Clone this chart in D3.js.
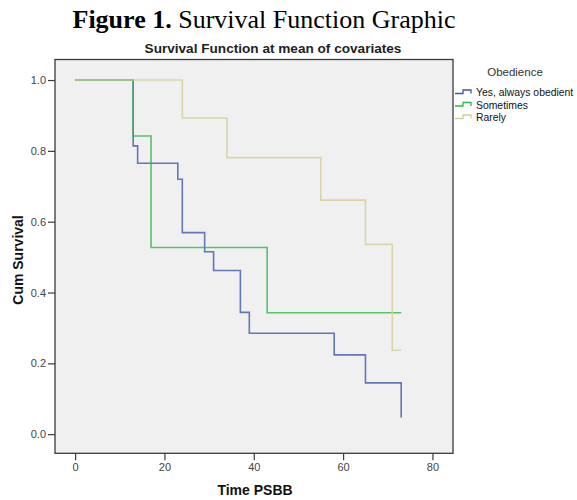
<!DOCTYPE html>
<html>
<head>
<meta charset="utf-8">
<script src="https://cdn.jsdelivr.net/npm/d3@7"></script>
<style>
  html, body { margin: 0; padding: 0; background: #ffffff; }
  svg { display: block; }
</style>
</head>
<body>
<svg id="chart" width="577" height="500"></svg>
<script>
// ---- data ----
const seriesNames = ["Yes, always obedient", "Sometimes", "Rarely"];
const yesTimes = [0, 13, 14, 23, 24, 29, 31, 37, 39, 58, 65, 73];
const yesSurv  = [1.0, 0.814, 0.765, 0.720, 0.569, 0.515, 0.462, 0.344, 0.285, 0.224, 0.145, 0.047];
const someTimes = [0, 13, 17, 43, 73];
const someSurv  = [1.0, 0.842, 0.527, 0.343, 0.343];
const rareTimes = [0, 24, 34, 55, 65, 71, 73];
const rareSurv  = [1.0, 0.893, 0.781, 0.661, 0.536, 0.237, 0.237];
const xTicks = [0, 20, 40, 60, 80];
const yTicks = [0.0, 0.2, 0.4, 0.6, 0.8, 1.0];
const colors = ["#3E58AC", "#2EB848", "#D3CE97"];

const series = [
  { name: seriesNames[0], pts: yesTimes.map((t, i) => [t, yesSurv[i]]), color: colors[0] },
  { name: seriesNames[1], pts: someTimes.map((t, i) => [t, someSurv[i]]), color: colors[1] },
  { name: seriesNames[2], pts: rareTimes.map((t, i) => [t, rareSurv[i]]), color: colors[2] }
];

const svg = d3.select("#chart");
const L = 55, R = 453, T = 59.5, B = 453.3;

const x = d3.scaleLinear().domain([-4.5, 84.6]).range([L, R]);
const y = d3.scaleLinear().domain([-0.054, 1.058]).range([B, T]);

// titles
const t1 = svg.append("text")
  .attr("x", 264).attr("y", 28)
  .attr("text-anchor", "middle")
  .style("font-family", "'Liberation Serif', 'Times New Roman', serif")
  .style("font-size", "26px")
  .style("fill", "#000");
t1.append("tspan").style("font-weight", "bold").text("Figure 1.");
t1.append("tspan").text(" Survival Function Graphic");

svg.append("text")
  .attr("x", 273).attr("y", 53)
  .attr("text-anchor", "middle")
  .style("font-family", "'Liberation Sans', Arial, sans-serif")
  .style("font-size", "13.6px")
  .style("font-weight", "bold")
  .style("fill", "#222")
  .text("Survival Function at mean of covariates");

// plot background
svg.append("rect")
  .attr("x", L).attr("y", T).attr("width", R - L).attr("height", B - T)
  .attr("fill", "#f0f0f0");

// clip
svg.append("clipPath").attr("id", "clip")
  .append("rect").attr("x", L).attr("y", T).attr("width", R - L).attr("height", B - T);

const line = d3.line()
  .x(d => x(d[0])).y(d => y(d[1]))
  .curve(d3.curveStepAfter);

const g = svg.append("g").attr("clip-path", "url(#clip)");
series.forEach(s => {
  g.append("path")
    .attr("d", line(s.pts))
    .attr("fill", "none")
    .attr("stroke", s.color)
    .attr("stroke-width", 1.6)
    .attr("stroke-opacity", 0.8);
});

// frame
svg.append("rect")
  .attr("x", L).attr("y", T).attr("width", R - L).attr("height", B - T)
  .attr("fill", "none").attr("stroke", "#3a3a3a").attr("stroke-width", 1.3);

// axes
const xAxis = d3.axisBottom(x).tickValues(xTicks).tickSize(7).tickPadding(3).tickFormat(d3.format("d"));
const gx = svg.append("g").attr("transform", `translate(0,${B})`).call(xAxis);
gx.select(".domain").remove();

const yAxis = d3.axisLeft(y).tickValues(yTicks).tickSize(7).tickPadding(2).tickFormat(d3.format(".1f"));
const gy = svg.append("g").attr("transform", `translate(${L},0)`).call(yAxis);
gy.select(".domain").remove();

[gx, gy].forEach(a => {
  a.selectAll(".tick line").attr("stroke", "#3a3a3a").attr("stroke-width", 1.2);
  a.selectAll(".tick text")
    .style("font-family", "'Liberation Sans', Arial, sans-serif")
    .style("font-size", "11px")
    .style("fill", "#444");
});

svg.append("text")
  .attr("x", 255).attr("y", 495)
  .attr("text-anchor", "middle")
  .style("font-family", "'Liberation Sans', Arial, sans-serif")
  .style("font-size", "14px").style("font-weight", "bold").style("fill", "#111")
  .text("Time PSBB");

svg.append("text")
  .attr("transform", "translate(23,260) rotate(-90)")
  .attr("text-anchor", "middle")
  .style("font-family", "'Liberation Sans', Arial, sans-serif")
  .style("font-size", "14px").style("font-weight", "bold").style("fill", "#111")
  .text("Cum Survival");

// legend
svg.append("text")
  .attr("x", 515).attr("y", 76)
  .attr("text-anchor", "middle")
  .style("font-family", "'Liberation Sans', Arial, sans-serif")
  .style("font-size", "11.5px").style("fill", "#333")
  .text("Obedience");

const lg = svg.append("g");
series.forEach((s, i) => {
  const yy = 92 + i * 12.5;
  lg.append("path")
    .attr("d", `M455,${yy + 1.5} H463 V${yy - 2} H471 V${yy + 1.5}`)
    .attr("fill", "none").attr("stroke", s.color).attr("stroke-width", 1.3);
  lg.append("text")
    .attr("x", 476).attr("y", yy + 4)
    .style("font-family", "'Liberation Sans', Arial, sans-serif")
    .style("font-size", "10.4px").style("fill", "#111")
    .text(s.name);
});
</script>
</body>
</html>
